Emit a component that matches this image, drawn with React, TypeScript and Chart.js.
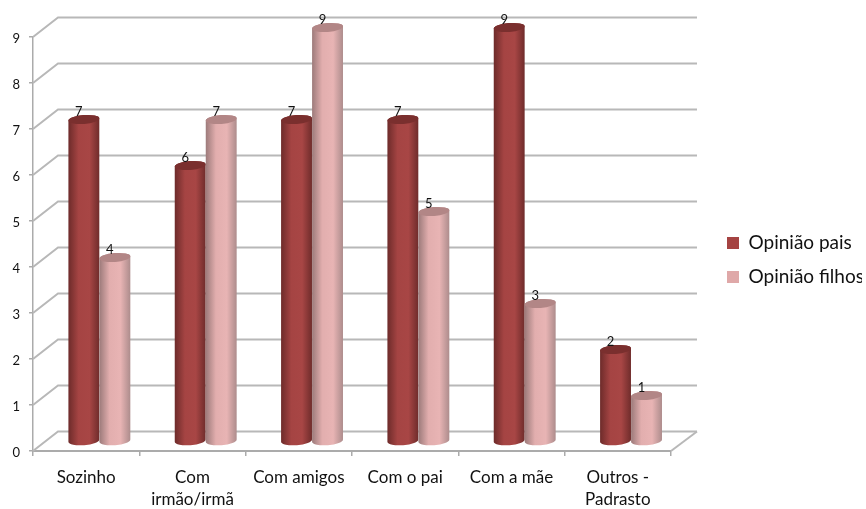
import React, { useEffect, useRef } from "react";
import { Chart, registerables } from "chart.js";

Chart.register(...registerables);

const categories = ["Sozinho", ["Com", "irmão/irmã"], "Com amigos", "Com o pai", "Com a mãe", ["Outros -", "Padrasto"]];
const opiniaoPais = [7, 6, 7, 7, 9, 2];
const opiniaoFilhos = [4, 7, 9, 5, 3, 1];
const yTicks = [0, 1, 2, 3, 4, 5, 6, 7, 8, 9];

const FONT = "Lato, Carlito, Calibri, sans-serif";
const GRID = "#b8b8b8";
const AXIS = "#ababab";

// Projection of the back wall and of the cylinders' mid depth relative to the front axes.
const WALL_DX = 25;
const WALL_DY = -19.5;
const BAR_DX = 13.2;
const BAR_DY = -9.5;
const CAP_RY = 4.4;
const CAP_TILT = (-5 * Math.PI) / 180;

const shades = [
  { flat: "#a54342", edge1: "#6d2b2a", mid1: "#a54443", mid2: "#a84645", edge2: "#6f2c2b", cap: "#7a2f2e" },
  { flat: "#dfa8a8", edge1: "#9c7a7a", mid1: "#e2aeae", mid2: "#e8b4b4", edge2: "#ad8c8c", cap: "#b28686" },
];

function drawWalls(chart: any) {
  const { ctx, chartArea, scales } = chart;
  const { left, right, bottom } = chartArea;
  ctx.save();
  ctx.strokeStyle = GRID;
  ctx.lineWidth = 2;
  yTicks.forEach((v) => {
    const y = scales.y.getPixelForValue(v);
    ctx.beginPath();
    ctx.moveTo(left, y);
    ctx.lineTo(left + WALL_DX, y + WALL_DY);
    ctx.lineTo(right + WALL_DX + 1, y + WALL_DY);
    ctx.stroke();
  });
  ctx.beginPath();
  ctx.moveTo(right, bottom);
  ctx.lineTo(right + WALL_DX + 1, bottom + WALL_DY);
  ctx.stroke();
  ctx.restore();
}

function drawCylinder(ctx: CanvasRenderingContext2D, bar: any, shade: (typeof shades)[number]) {
  const cx = bar.x + BAR_DX;
  const rx = bar.width / 2;
  const top = bar.y + BAR_DY;
  const foot = bar.base + BAR_DY;
  const gradient = ctx.createLinearGradient(cx - rx, 0, cx + rx, 0);
  gradient.addColorStop(0, shade.edge1);
  gradient.addColorStop(0.33, shade.mid1);
  gradient.addColorStop(0.68, shade.mid2);
  gradient.addColorStop(1, shade.edge2);

  ctx.beginPath();
  ctx.ellipse(cx, foot, rx, CAP_RY, CAP_TILT, 0, Math.PI);
  ctx.ellipse(cx, top, rx, CAP_RY, CAP_TILT, Math.PI, 0);
  ctx.closePath();
  ctx.fillStyle = gradient;
  ctx.fill();

  ctx.beginPath();
  ctx.ellipse(cx, top, rx, CAP_RY, CAP_TILT, 0, Math.PI * 2);
  ctx.fillStyle = shade.cap;
  ctx.fill();
}

// Lowers a value axis' numbers a little so they sit centred on their tick marks.
function nudgeLabels(scale: any, dy: number) {
  if (scale.__nudged) return;
  scale.__nudged = true;
  const draw = scale.drawLabels.bind(scale);
  scale.drawLabels = (area: any) => {
    scale.ctx.save();
    scale.ctx.translate(0, dy);
    draw(area);
    scale.ctx.restore();
  };
}

const cylinderPlugin = {
  id: "cylinders",
  afterLayout(chart: any) {
    // The legend sits apart from the plot, in the free space on its right.
    const legend = chart.legend;
    const w = legend.width;
    const h = legend.height;
    legend.left = 712;
    legend.right = 712 + w;
    legend.top = 260 - h / 2;
    legend.bottom = 260 + h / 2;
    nudgeLabels(chart.scales.y, 2);
  },
  beforeDatasetsDraw(chart: any) {
    drawWalls(chart);
    const { ctx } = chart;
    const metas = [chart.getDatasetMeta(0), chart.getDatasetMeta(1)];
    categories.forEach((_, i) => {
      metas.forEach((meta, d) => drawCylinder(ctx, meta.data[i], shades[d]));
    });
  },
  beforeDatasetDraw() {
    return false;
  },
  afterDatasetsDraw(chart: any) {
    const { ctx } = chart;
    ctx.save();
    ctx.font = `13px ${FONT}`;
    ctx.fillStyle = "#111";
    ctx.textAlign = "center";
    ctx.textBaseline = "middle";
    chart.data.datasets.forEach((ds: any, d: number) => {
      chart.getDatasetMeta(d).data.forEach((bar: any, i: number) => {
        ctx.fillText(String(ds.data[i]), bar.x + BAR_DX - 5, bar.y + BAR_DY - 8);
      });
    });
    ctx.restore();
  },
};

export default function App() {
  const ref = useRef<HTMLCanvasElement>(null);

  useEffect(() => {
    const chart = new Chart(ref.current!, {
      type: "bar",
      data: {
        labels: categories as any,
        datasets: [
          { label: "Opinião pais", data: opiniaoPais, backgroundColor: shades[0].flat },
          { label: "Opinião filhos", data: opiniaoFilhos, backgroundColor: shades[1].flat },
        ],
      },
      plugins: [cylinderPlugin],
      options: {
        animation: false,
        responsive: false,
        layout: { padding: { left: 0, top: 37, right: 45, bottom: 0 } },
        datasets: { bar: { categoryPercentage: 62 / 106.3, barPercentage: 1 } },
        scales: {
          x: {
            afterFit: (s: any) => { s.height = 58; },
            border: { display: true, color: AXIS, width: 2 },
            grid: { drawOnChartArea: false, color: AXIS, lineWidth: 1.5, tickLength: 5 },
            ticks: { color: "#111", font: { family: FONT, size: 17, lineHeight: 1.3 }, padding: 10, maxRotation: 0, autoSkip: false },
          },
          y: {
            min: 0,
            max: 9,
            afterFit: (s: any) => { s.width = 33; },
            border: { display: true, color: AXIS, width: 1.5 },
            grid: { drawOnChartArea: false, color: AXIS, lineWidth: 1.5, tickLength: 4 },
            ticks: { stepSize: 1, color: "#111", font: { family: FONT, size: 13 }, padding: 9 },
          },
        },
        plugins: {
          tooltip: { enabled: false },
          legend: {
            position: "right",
            maxWidth: 150,
            labels: {
              color: "#111",
              font: { family: FONT, size: 19 },
              boxWidth: 12,
              boxHeight: 12,
              padding: 15,
            },
          },
        },
      } as any,
    });
    return () => chart.destroy();
  }, []);

  return (
    <div style={{ position: "absolute", left: 0, top: 0, width: 866, height: 509, background: "#fff" }}>
      <canvas ref={ref} width={866} height={509} style={{ display: "block" }} />
    </div>
  );
}
